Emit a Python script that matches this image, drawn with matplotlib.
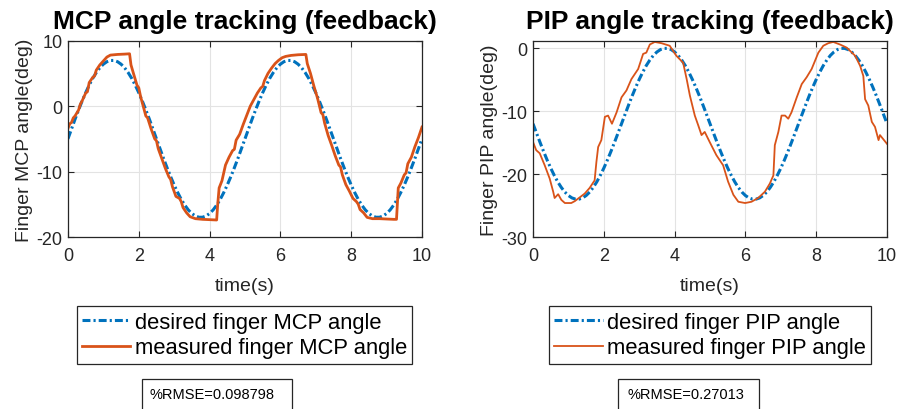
import matplotlib
matplotlib.use('Agg')
import matplotlib.pyplot as plt
from matplotlib.patches import Rectangle
import numpy as np

plt.rcParams['font.family'] = ['Liberation Sans', 'DejaVu Sans']
plt.rcParams['axes.unicode_minus'] = False

# desired trajectories, sampled every 0.1 s
t_des = [round(0.1 * i, 1) for i in range(101)]
mcp_des = [-5.0, -3.5, -2.0, -0.58, 0.78, 2.05, 3.21, 4.25, 5.13, 5.86, 6.41, 6.79, 6.98, 6.98, 6.79, 6.41, 5.86,
           5.13, 4.25, 3.21, 2.05, 0.78, -0.58, -2.0, -3.5, -5.0, -6.5, -8.0, -9.42, -10.78, -12.05, -13.21, -14.25,
           -15.13, -15.86, -16.41, -16.79, -16.98, -16.98, -16.79, -16.41, -15.86, -15.13, -14.25, -13.21, -12.05,
           -10.78, -9.42, -8.0, -6.5, -5.0, -3.5, -2.0, -0.58, 0.78, 2.05, 3.21, 4.25, 5.13, 5.86, 6.41, 6.79, 6.98,
           6.98, 6.79, 6.41, 5.86, 5.13, 4.25, 3.21, 2.05, 0.78, -0.58, -2.0, -3.5, -5.0, -6.5, -8.0, -9.42, -10.78,
           -12.05, -13.21, -14.25, -15.13, -15.86, -16.41, -16.79, -16.98, -16.98, -16.79, -16.41, -15.86, -15.13,
           -14.25, -13.21, -12.05, -10.78, -9.42, -8.0, -6.5, -5.0]
pip_des = [-12.0, -13.5, -14.98, -16.42, -17.78, -19.05, -20.21, -21.25, -22.13, -22.86, -23.41, -23.79, -23.98,
           -23.98, -23.79, -23.41, -22.86, -22.13, -21.25, -20.21, -19.05, -17.78, -16.42, -14.98, -13.5, -12.0,
           -10.5, -9.02, -7.58, -6.22, -4.95, -3.79, -2.75, -1.87, -1.14, -0.59, -0.21, -0.02, -0.02, -0.21, -0.59,
           -1.14, -1.87, -2.75, -3.79, -4.95, -6.22, -7.58, -9.02, -10.5, -12.0, -13.5, -14.98, -16.42, -17.78,
           -19.05, -20.21, -21.25, -22.13, -22.86, -23.41, -23.79, -23.98, -23.98, -23.79, -23.41, -22.86, -22.13,
           -21.25, -20.21, -19.05, -17.78, -16.42, -14.98, -13.5, -12.0, -10.5, -9.02, -7.58, -6.22, -4.95, -3.79,
           -2.75, -1.87, -1.14, -0.59, -0.21, -0.02, -0.02, -0.21, -0.59, -1.14, -1.87, -2.75, -3.79, -4.95, -6.22,
           -7.58, -9.02, -10.5, -12.0]

# measured MCP angle
t_mcp = [0.0, 0.05, 0.1, 0.15, 0.2, 0.3, 0.35, 0.4, 0.5, 0.55, 0.6, 0.7, 0.75, 0.8, 0.9, 1.0, 1.1, 1.2, 1.4, 1.6,
         1.74, 1.78, 1.85, 1.95, 2.0, 2.05, 2.15, 2.2, 2.25, 2.35, 2.45, 2.5, 2.55, 2.65, 2.75, 2.85, 2.9, 2.95,
         3.05, 3.15, 3.2, 3.25, 3.35, 3.45, 3.6, 3.8, 4.0, 4.2, 4.23, 4.27, 4.35, 4.45, 4.55, 4.65, 4.7, 4.75,
         4.85, 4.95, 5.05, 5.15, 5.25, 5.35, 5.45, 5.5, 5.55, 5.65, 5.75, 5.85, 5.95, 6.05, 6.15, 6.3, 6.5, 6.72,
         6.76, 6.85, 6.95, 7.05, 7.15, 7.2, 7.25, 7.35, 7.45, 7.55, 7.65, 7.7, 7.75, 7.85, 7.95, 8.05, 8.15, 8.2,
         8.25, 8.35, 8.45, 8.6, 8.8, 9.0, 9.2, 9.28, 9.33, 9.4, 9.5, 9.55, 9.6, 9.7, 9.8, 9.9, 10.0]
mcp_meas = [-3.4, -2.7, -2.5, -1.8, -1.5, -0.6, 0.3, 0.8, 2.0, 2.2, 3.6, 4.4, 4.6, 5.5, 6.3, 6.9, 7.5, 7.8, 7.9,
            7.95, 8.0, 6.3, 5.0, 3.2, 2.8, 1.5, -0.5, -1.5, -1.8, -3.5, -5.0, -5.3, -6.5, -8.0, -9.5, -10.8, -11.2,
            -12.3, -13.8, -14.1, -14.6, -15.5, -16.3, -16.9, -17.2, -17.3, -17.35, -17.4, -15.0, -12.5, -11.4,
            -9.0, -7.8, -6.8, -6.6, -5.2, -4.3, -2.8, -1.4, 0.0, 1.0, 2.0, 2.8, 3.0, 3.9, 5.0, 5.8, 6.5, 7.0, 7.4,
            7.6, 7.75, 7.85, 7.9, 6.5, 5.0, 3.0, 1.2, -1.0, -1.3, -2.6, -4.5, -6.0, -7.6, -9.0, -9.3, -10.5,
            -12.0, -13.0, -14.1, -14.6, -15.0, -15.8, -16.3, -17.0, -17.2, -17.2, -17.25, -17.3, -17.3, -12.5,
            -11.8, -10.5, -10.2, -8.8, -7.8, -6.2, -4.8, -3.2]

# measured PIP angle
t_pip = [0.0, 0.09, 0.19, 0.33, 0.47, 0.57, 0.61, 0.71, 0.8, 0.9, 1.08, 1.18, 1.32, 1.46, 1.6, 1.74, 1.79, 1.84,
         1.93, 2.03, 2.12, 2.23, 2.36, 2.5, 2.64, 2.78, 2.97, 3.11, 3.2, 3.3, 3.44, 3.63, 3.86, 4.05, 4.24, 4.34,
         4.43, 4.57, 4.67, 4.76, 4.85, 4.99, 5.18, 5.37, 5.51, 5.66, 5.8, 5.99, 6.17, 6.36, 6.55, 6.69, 6.79,
         6.83, 6.93, 7.02, 7.12, 7.21, 7.3, 7.45, 7.59, 7.73, 7.87, 8.06, 8.2, 8.34, 8.48, 8.67, 8.86, 9.1, 9.24,
         9.33, 9.38, 9.47, 9.57, 9.66, 9.76, 9.8, 10.0]
pip_meas = [-14.9, -16.2, -16.7, -18.6, -20.7, -22.8, -23.8, -23.2, -24.1, -24.6, -24.6, -24.3, -23.7, -23.1,
            -22.2, -21.0, -18.1, -15.7, -14.6, -10.9, -10.7, -12.0, -10.2, -7.8, -6.7, -4.9, -3.3, -0.9, -0.7,
            0.6, 1.0, 0.8, 0.4, -1.2, -2.3, -4.9, -7.5, -10.7, -12.3, -13.8, -13.3, -14.9, -17.0, -18.6, -21.2,
            -23.3, -24.4, -24.6, -24.4, -23.8, -22.8, -21.5, -20.2, -15.4, -13.3, -10.7, -10.7, -11.2, -10.2,
            -7.8, -5.7, -4.6, -3.3, -0.7, 0.4, 0.8, 1.0, 0.6, 0.1, -1.2, -2.8, -4.4, -8.1, -9.1, -11.7, -12.5,
            -14.6, -13.8, -15.2]

rmse_mcp = '%RMSE=0.098798'
rmse_pip = '%RMSE=0.27013'

blue = '#0072BD'
orange = '#D95319'
dashdot = (0, (2.6, 1.0, 0.7, 1.0))

fig = plt.figure(figsize=(8.99, 4.10), dpi=100)
ax1 = fig.add_axes([0.0756, 0.4195, 0.3938, 0.4788])
ax2 = fig.add_axes([0.5929, 0.4195, 0.3938, 0.4788])

panels = [
    (ax1, mcp_des, t_mcp, mcp_meas, 2.0, 'MCP', (-20, 10), [-20, -10, 0, 10]),
    (ax2, pip_des, t_pip, pip_meas, 1.3, 'PIP', (-30, 1.2), [-30, -20, -10, 0]),
]

handles = []
for ax, des, tm, meas, lw, joint, ylim, yticks in panels:
    l1, = ax.plot(t_des, des, color=blue, lw=2.2, linestyle=dashdot,
                  label='desired finger %s angle' % joint)
    l2, = ax.plot(tm, meas, color=orange, lw=lw, label='measured finger %s angle' % joint)
    handles.append((l1, l2))
    ax.set_xlim(0, 10)
    ax.set_ylim(*ylim)
    ax.set_xticks([0, 2, 4, 6, 8, 10])
    ax.set_yticks(yticks)
    ax.grid(True, color='#e3e3e3', lw=0.8)
    ax.set_axisbelow(True)
    ax.tick_params(direction='in', top=True, right=True, length=4, width=0.8,
                   labelsize=13, colors='#262626', pad=4)
    ax.tick_params(axis='x', pad=7.5)
    for sp in ax.spines.values():
        sp.set_color('#262626')
        sp.set_linewidth(0.9)
    ax.set_title('%s angle tracking (feedback)' % joint, fontsize=19, fontweight='bold', pad=9)
    ax.set_xlabel('time(s)', fontsize=14, color='#262626', labelpad=9)
    ax.set_ylabel('Finger %s angle(deg)' % joint, fontsize=14, color='#262626')
    ax.yaxis.set_label_coords(-0.10, 0.5)

legend_x = [0.272, 0.790]
for (l1, l2), lx in zip(handles, legend_x):
    leg = fig.legend([l1, l2], [l1.get_label(), l2.get_label()], loc='center',
                     bbox_to_anchor=(lx, 0.1805), fontsize=15.8, fancybox=False,
                     edgecolor='#262626', framealpha=1, handlelength=2.2, handletextpad=0.2,
                     labelspacing=0.2, borderpad=0.25, borderaxespad=0)
    leg.get_frame().set_linewidth(0.9)

# RMSE annotation boxes
fig.patches.append(Rectangle((142 / 899, -0.01), 150 / 899, 0.083, transform=fig.transFigure,
                             facecolor='white', edgecolor='#262626', lw=0.9))
fig.patches.append(Rectangle((618 / 899, -0.01), 141 / 899, 0.083, transform=fig.transFigure,
                             facecolor='white', edgecolor='#262626', lw=0.9))
fig.text(149 / 899, 1 - 395 / 410, rmse_mcp, fontsize=10.5, va='center', ha='left')
fig.text(628 / 899, 1 - 395 / 410, rmse_pip, fontsize=10.5, va='center', ha='left')

fig.savefig('out.png', dpi=100, facecolor='white')
